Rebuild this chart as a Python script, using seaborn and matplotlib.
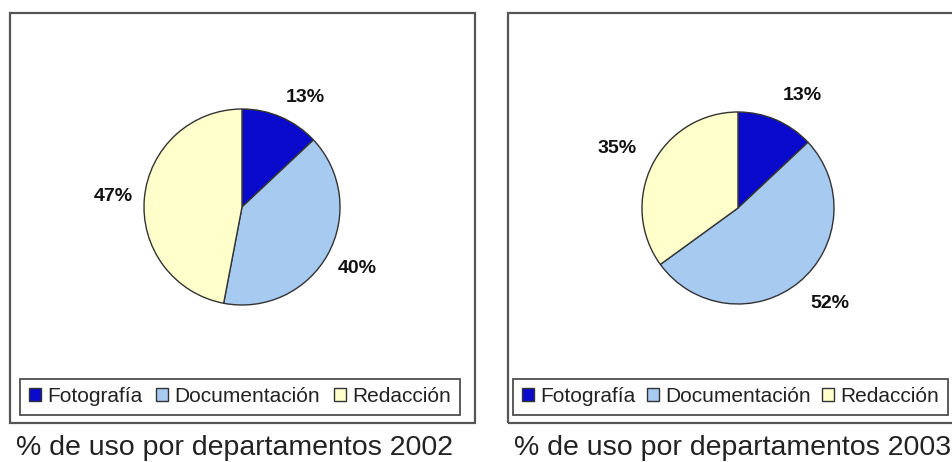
import matplotlib
matplotlib.use("Agg")
import numpy as np
import matplotlib.pyplot as plt
import seaborn as sns
from matplotlib.patches import Rectangle

categorias = ["Fotografía", "Documentación", "Redacción"]
uso_2002 = [13, 40, 47]
uso_2003 = [13, 52, 35]
titulos = ["% de uso por departamentos 2002", "% de uso por departamentos 2003"]

W, H = 953, 462

sns.set_theme(style="white")
plt.rcParams['font.family'] = ['Liberation Sans', 'DejaVu Sans']
colores = sns.color_palette(["#0A0ACD", "#A6CAF0", "#FFFFCC"])

fig = plt.figure(figsize=(W / 100, H / 100), dpi=100)
fig.patch.set_facecolor("white")


def fx(x):
    return x / W


def fy(y):
    return 1 - y / H


def panel(valores, titulo, box_x0, box_x1, leg_x0, leg_x1, cx, cy, r, dist):
    # outer frame of the chart area
    fig.patches.append(Rectangle((fx(box_x0), fy(423)), fx(box_x1 - box_x0), 410 / H,
                                 transform=fig.transFigure, fill=False,
                                 edgecolor="#555555", lw=1.6))
    s = 160
    ax = fig.add_axes([fx(cx - s), fy(cy + s), 2 * s / W, 2 * s / H])
    wedges, _, autotexts = ax.pie(valores, colors=colores, startangle=90, counterclock=False,
                                  autopct="%d%%",
                                  wedgeprops=dict(edgecolor="#333333", linewidth=1.0),
                                  textprops=dict(fontsize=14, fontweight="bold", color="#111111"))
    # Excel-style outside-end labels: the label's corner touches the anchor point
    for w, t in zip(wedges, autotexts):
        ang = np.deg2rad((w.theta1 + w.theta2) / 2)
        c, sn = np.cos(ang), np.sin(ang)
        t.set_position((dist * c, dist * sn))
        t.set_ha("left" if c > 0.3 else "right" if c < -0.3 else "center")
        t.set_va("bottom" if sn > 0.3 else "top" if sn < -0.3 else "center")
    ax.set_xlim(-s / r, s / r)
    ax.set_ylim(-s / r, s / r)
    ax.set_aspect("equal")
    ax.axis("off")

    leg = ax.legend(wedges, categorias, loc="lower left", ncol=3, mode="expand",
                    bbox_to_anchor=(fx(leg_x0), fy(415), fx(leg_x1 - leg_x0), 38 / H),
                    bbox_transform=fig.transFigure, fontsize=15,
                    handlelength=0.58, handleheight=0.58, handletextpad=0.3,
                    columnspacing=0.4, borderpad=0.42, borderaxespad=0,
                    frameon=True, fancybox=False)
    leg.get_frame().set_edgecolor("#222222")
    leg.get_frame().set_linewidth(1.3)
    for t in leg.get_texts():
        t.set_color("#222222")

    fig.text(fx(box_x0 + 6), fy(455), titulo, fontsize=20.5, color="#222222",
             ha="left", va="baseline")


panel(uso_2002, titulos[0], 10, 475, 20, 460, 242, 207, 98, 1.12)
panel(uso_2003, titulos[1], 508, 962, 513, 948, 738, 208, 96, 1.18)

fig.savefig("out.png", dpi=100, facecolor="white")
